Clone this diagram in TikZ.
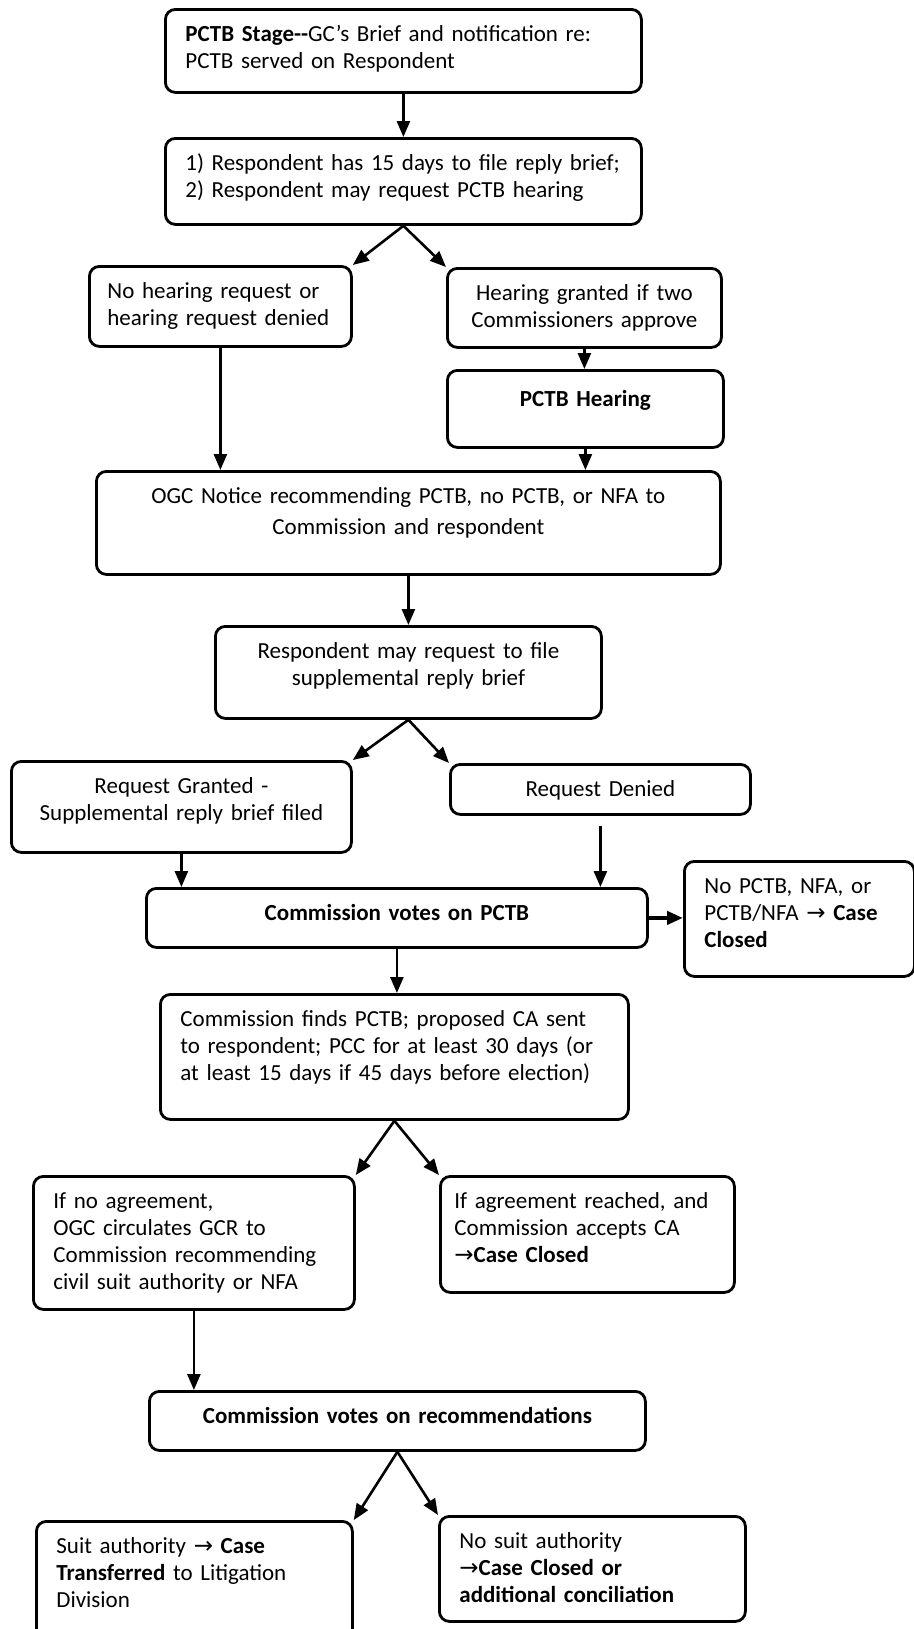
\documentclass[tikz,border=0pt]{standalone}
\usepackage{fontspec}
\setmainfont{Carlito}
\newfontfamily\arrowfont{DejaVu Sans}
\newcommand{\toarrow}{{\arrowfont →}}
\usetikzlibrary{arrows.meta}

\begin{document}
\begin{tikzpicture}[x=0.5pt, y=-0.5pt,
  box/.style={draw, line width=1.4pt, rounded corners=5pt, anchor=north west,
    inner xsep=10pt, inner ysep=8pt, text height=8pt, align=left,
    font=\fontsize{11.5}{13.5}\selectfont},
  link/.style={-{Triangle[length=8pt, width=6.5pt]}, line width=1.3pt}]
\useasboundingbox (0,0) rectangle (914,1629);

% Hearing stage
\node[box, text width=218pt, text depth=17.5pt] (stage) at (164,8)
  {\textbf{PCTB Stage{-}{-}}GC's Brief and notification re:\\PCTB served on Respondent};
\node[box, text width=218pt, text depth=19pt] (reply) at (164,137)
  {1) Respondent has 15 days to file reply brief;\\2) Respondent may request PCTB hearing};
\node[box, text width=113pt, inner xsep=9pt, text depth=16pt] (nohear) at (88,265)
  {No hearing request or\\hearing request denied};
\node[box, align=center, text width=117pt, text depth=15.5pt] (granted) at (446,267)
  {Hearing granted if two\\Commissioners approve};
\node[box, align=center, text width=118pt, text depth=12.5pt, text height=10pt] (hearing) at (446,369)
  {\textbf{PCTB Hearing}};
\node[box, align=center, text width=292pt, text depth=27.5pt,
  font=\fontsize{11.5}{15.5}\selectfont] (notice) at (95,470)
  {OGC Notice recommending PCTB, no PCTB, or NFA to\\Commission and respondent};

% Supplemental brief
\node[box, align=center, text width=173pt, text depth=22pt] (supp) at (214,625)
  {Respondent may request to file\\supplemental reply brief};
\node[box, align=center, text width=150pt, text depth=21.5pt] (reqgrant) at (10,760)
  {Request Granted -\\Supplemental reply brief filed};
\node[box, align=center, text width=130pt, text depth=1pt] (reqdeny) at (449,763)
  {Request Denied};

% Probable cause vote
\node[box, align=center, text width=230.5pt, text depth=5.5pt] (vote) at (145,887)
  {\textbf{Commission votes on PCTB}};
\node[box, text width=95pt, text depth=33.5pt] (closed) at (683,860)
  {No PCTB, NFA, or\\PCTB/NFA \toarrow{} \textbf{Case}\\\textbf{Closed}};
\node[box, text width=214pt, text depth=38.5pt] (finds) at (159,993)
  {Commission finds PCTB; proposed CA sent\\to respondent; PCC for at least 30 days (or\\at least 15 days if 45 days before election)};
\node[box, text width=140.5pt, text depth=42.5pt] (noagree) at (32,1175)
  {If no agreement,\\OGC circulates GCR to\\Commission recommending\\civil suit authority or NFA};
\node[box, text width=133pt, inner xsep=7pt, text depth=34pt] (agree) at (439,1175)
  {If agreement reached, and\\Commission accepts CA\\\toarrow\textbf{Case Closed}};

% Recommendations vote
\node[box, align=center, text width=228pt, text depth=5.5pt] (recvote) at (148,1390)
  {\textbf{Commission votes on recommendations}};
\node[box, text width=138pt, text depth=36pt] (suit) at (35,1520)
  {Suit authority \toarrow{} \textbf{Case}\\\textbf{Transferred} to Litigation\\Division};
\node[box, text width=133pt, text depth=28.5pt] (nosuit) at (438,1515)
  {No suit authority\\\toarrow\textbf{Case Closed or}\\\textbf{additional conciliation}};

% Connectors
\draw[link] (stage.south) -- (reply.north);
\draw[link] (reply.south) -- (nohear.north east);
\draw[link] (reply.south) -- (granted.north west);
\draw[link] (granted.south) -- (granted.south |- hearing.north);
\draw[link] (nohear.south) -- (nohear.south |- notice.north);
\draw[link] (hearing.south) -- (hearing.south |- notice.north);
\draw[link] (notice.south) -- (notice.south |- supp.north);
\draw[link] (supp.south) -- (reqgrant.north east);
\draw[link] (supp.south) -- (reqdeny.north west);
\draw[link] (reqgrant.south) -- (reqgrant.south |- vote.north);
\draw[link, shorten <=5pt] (reqdeny.south) -- (reqdeny.south |- vote.north);
\draw[link, line width=2.2pt] (vote.east) -- (vote.east -| closed.west);
\draw[link] (vote.south) -- (vote.south |- finds.north);
\draw[link] (finds.south) -- (noagree.north east);
\draw[link] (finds.south) -- (agree.north west);
\draw[link] (noagree.south) -- (noagree.south |- recvote.north);
\draw[link] (recvote.south) -- (suit.north east);
\draw[link] (recvote.south) -- (nosuit.north west);
\end{tikzpicture}
\end{document}
